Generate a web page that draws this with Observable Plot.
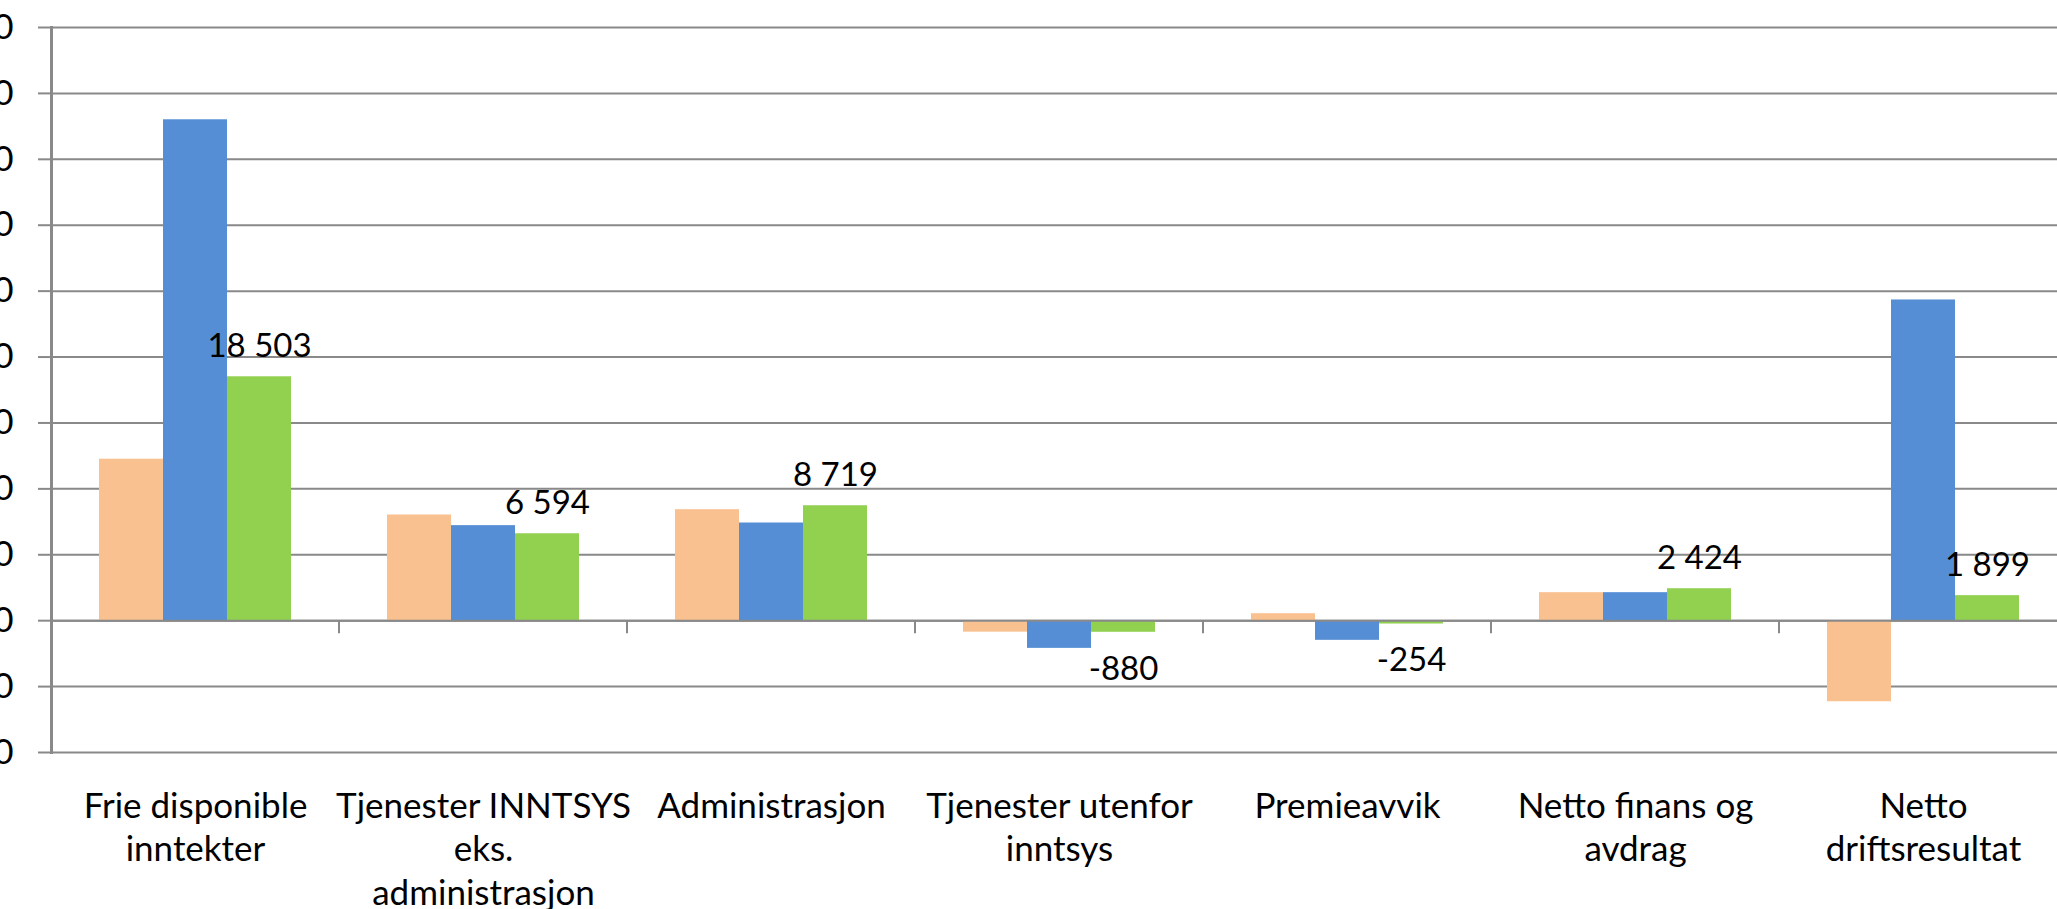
<!DOCTYPE html>
<html><head><meta charset="utf-8">
<script src="https://cdn.jsdelivr.net/npm/d3@7"></script>
<script src="https://cdn.jsdelivr.net/npm/@observablehq/plot@0.6"></script>
<style>
html,body{margin:0;padding:0;background:#fff;overflow:hidden;width:2057px;height:909px;}
#chart{position:absolute;left:-101.5px;top:0;width:2170px;height:909px;}
#chart svg{font-family:Lato,"Open Sans",sans-serif;max-width:none !important;width:2170px;height:909px;}
</style></head><body><div id="chart"></div>
<script>
// Data
const categories = ["Frie disponible inntekter","Tjenester INNTSYS eks. administrasjon","Administrasjon","Tjenester utenfor inntsys","Premieavvik","Netto finans og avdrag","Netto driftsresultat"];
const categoryLabels = ["Frie disponible\ninntekter","Tjenester INNTSYS\neks.\nadministrasjon","Administrasjon","Tjenester utenfor\ninntsys","Premieavvik","Netto finans og\navdrag","Netto\ndriftsresultat"];
const seriesNames = ["Serie 1","Serie 2","Serie 3"];
const serie1 = [12250, 8020, 8420, -870, 530, 2125, -6150];
const serie2 = [38000, 7210, 7410, -2100, -1490, 2125, 24330];
const serie3 = [18503, 6594, 8719, -880, -254, 2424, 1899];
const labelledSeries = "Serie 3";
const yTicks = [-10000,-5000,0,5000,10000,15000,20000,25000,30000,35000,40000,45000];
const colors = ["#F9C190","#558ED5","#92D050"];

const gridColor = "#898989";
const seriesValues = [serie1, serie2, serie3];
const rows = categories.flatMap((c, i) => seriesNames.map((s, k) => ({category: c, series: s, value: seriesValues[k][i]})));
const fmt = d3.formatLocale({thousands: " ", grouping: [3], decimal: ",", minus: "-"}).format(",d");
const labelMap = new Map(categories.map((c, i) => [c, categoryLabels[i]]));
const labelled = rows.filter(d => d.series === labelledSeries);

const plot = Plot.plot({
  width: 2170, height: 909,
  marginLeft: 150, marginRight: 0, marginTop: 27, marginBottom: 157,
  style: {fontFamily: "Lato, 'Open Sans', sans-serif", fontSize: "33px", color: "#000", background: "#fff", maxWidth: "none"},
  fx: {domain: categories, padding: 0, label: null},
  x: {domain: seriesNames, paddingInner: 0, paddingOuter: 0.75, axis: null},
  y: {domain: [-10000, 45000], label: null},
  color: {domain: seriesNames, range: colors},
  marks: [
    Plot.gridY(yTicks, {stroke: gridColor, strokeOpacity: 1, strokeWidth: 2}),
    Plot.axisY(yTicks, {tickSize: 13, tickFormat: () => "", stroke: gridColor, strokeWidth: 2, strokeOpacity: 1}),
    Plot.axisY(yTicks, {tickSize: 0, tickPadding: 38, tickFormat: fmt, fontSize: 35, fill: "#000"}),
    Plot.barY(rows, {fx: "category", x: "series", y: "value", fill: "series"}),
    Plot.ruleY([0], {stroke: gridColor, strokeWidth: 2}),
    Plot.frame({anchor: "left", facetAnchor: "left", stroke: gridColor, strokeWidth: 3}),
    Plot.text(labelled.filter(d => d.value >= 0), {fx: "category", x: "series", y: "value", text: d => fmt(d.value), lineAnchor: "bottom", dy: -20, fontSize: 33, fill: "#000"}),
    Plot.text(labelled.filter(d => d.value < 0), {fx: "category", x: "series", y: "value", text: d => fmt(d.value), lineAnchor: "top", dy: 24, fontSize: 33, fill: "#000"}),
    Plot.axisFx({anchor: "bottom", tickSize: 0, tickPadding: 34, tickFormat: c => labelMap.get(c), fontSize: 35, lineHeight: 1.25, label: null, fill: "#000"})
  ]
});

// category boundary tick marks on the zero line, from Plot's own scales
const fxS = plot.scale("fx"), yS = plot.scale("y");
const y0 = yS.apply(0);
const g = d3.select(plot).append("g").attr("stroke", gridColor).attr("stroke-width", 2);
categories.forEach(c => {
  const xr = fxS.apply(c) + fxS.bandwidth;
  g.append("line").attr("x1", xr).attr("x2", xr).attr("y1", y0).attr("y2", y0 + 13);
});
document.getElementById("chart").append(plot);
</script></body></html>
